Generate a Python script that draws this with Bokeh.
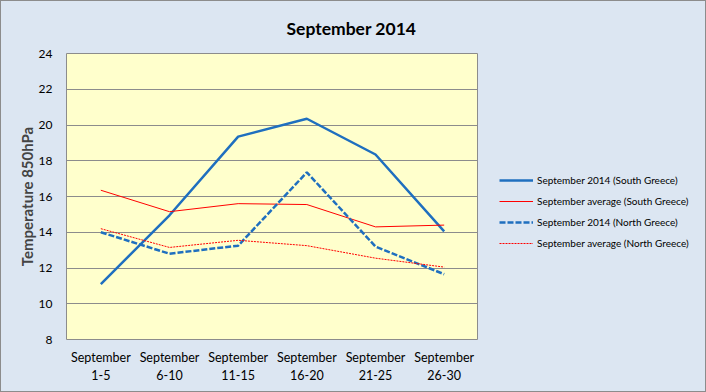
from bokeh.plotting import figure
from bokeh.layouts import row
from bokeh.models import FactorRange, Range1d, Legend, LegendItem, FixedTicker
from bokeh.embed import file_html
from bokeh.resources import INLINE

categories = ["September\n1-5", "September\n6-10", "September\n11-15",
              "September\n16-20", "September\n21-25", "September\n26-30"]
south_2014 = [11.1, 14.95, 19.35, 20.35, 18.35, 14.05]
south_avg = [16.35, 15.15, 15.6, 15.55, 14.3, 14.4]
north_2014 = [14.0, 12.8, 13.25, 17.35, 13.2, 11.65]
north_avg = [14.2, 13.15, 13.55, 13.25, 12.55, 12.05]
y_ticks = [8, 10, 12, 14, 16, 18, 20, 22, 24]
series_names = ["September 2014 (South Greece)", "September average (South Greece)",
                "September 2014 (North Greece)", "September average (North Greece)"]
series_values = [south_2014, south_avg, north_2014, north_avg]

BG = "#DCE6F2"
FONT = "Lato"
BLUE = "#1F6FBF"
RED = "#FF0000"
styles = [dict(line_color=BLUE, line_width=2.5),
          dict(line_color=RED, line_width=1),
          dict(line_color=BLUE, line_width=2.5, line_dash="6 2"),
          dict(line_color=RED, line_width=1, line_dash="2 1")]

p = figure(width=477, height=388, output_backend="svg", toolbar_location=None,
           x_range=FactorRange(*categories, range_padding=0),
           y_range=Range1d(8, 24),
           min_border_left=65, min_border_right=0, min_border_top=48, min_border_bottom=50,
           title="September 2014")

p.background_fill_color = "#FFFFCC"
p.border_fill_color = BG
p.outline_line_color = "#8C8C8C"
p.outline_line_width = 1

p.title.text_font = FONT
p.title.text_font_size = "17.5px"
p.title.text_font_style = "bold"
p.title.align = "left"
p.title.offset = 220
p.title.text_color = "#000000"
p.title.standoff = 29

p.xgrid.grid_line_color = None
p.ygrid.grid_line_color = "#8C8C8C"
p.ygrid.grid_line_width = 1

p.yaxis.ticker = FixedTicker(ticks=y_ticks)
p.yaxis.axis_label = "Temperature 850hPa"
p.yaxis.axis_label_text_font = FONT
p.yaxis.axis_label_text_font_size = "15px"
p.yaxis.axis_label_text_font_style = "bold"
p.yaxis.axis_label_standoff = 0

for ax in (p.xaxis[0], p.yaxis[0]):
    ax.axis_line_color = None
    ax.major_tick_line_color = None
    ax.minor_tick_line_color = None
    ax.major_tick_out = 0
    ax.major_tick_in = 0
    ax.minor_tick_out = 0
    ax.major_label_text_font = FONT
    ax.major_label_text_color = "#000000"

p.yaxis.major_label_text_font_size = "12px"
p.xaxis.major_label_text_font_size = "12.5px"
p.yaxis.major_label_standoff = 14
p.xaxis.major_label_standoff = 10

for vals, st in zip(series_values, styles):
    p.line(categories, vals, **st)

# legend panel (its renderers are hidden; only their legend samples are shown)
q = figure(width=225, height=388, output_backend="svg", toolbar_location=None,
           x_range=FactorRange(*categories), y_range=Range1d(8, 24),
           x_axis_type=None, y_axis_type=None, min_border=0)
q.background_fill_color = BG
q.border_fill_color = BG
q.outline_line_color = None
q.xgrid.visible = False
q.ygrid.visible = False
leg_renderers = [q.line(categories, vals, visible=False, **st)
                 for vals, st in zip(series_values, styles)]

legend = Legend(items=[LegendItem(label=n, renderers=[r]) for n, r in
                       zip(series_names, leg_renderers)],
                location=(21, 86), padding=0, margin=0, spacing=1,
                glyph_width=34, glyph_height=20, label_height=20,
                label_standoff=4, label_text_font=FONT, label_text_font_size="10px",
                label_text_color="#000000",
                inactive_fill_alpha=0,
                background_fill_alpha=0, border_line_color=None)
q.add_layout(legend, "center")

layout = row(p, q, spacing=0)

html = file_html(layout, INLINE)
css = ("<style>html{margin:0;padding:0;background:#FFFFFF;}"
       "body{margin:1px;padding:0;border:1px solid #8C8C8C;background:#DCE6F2;}</style>")
html = html.replace("<head>", "<head>" + css, 1)
open("out.html", "w").write(html)
